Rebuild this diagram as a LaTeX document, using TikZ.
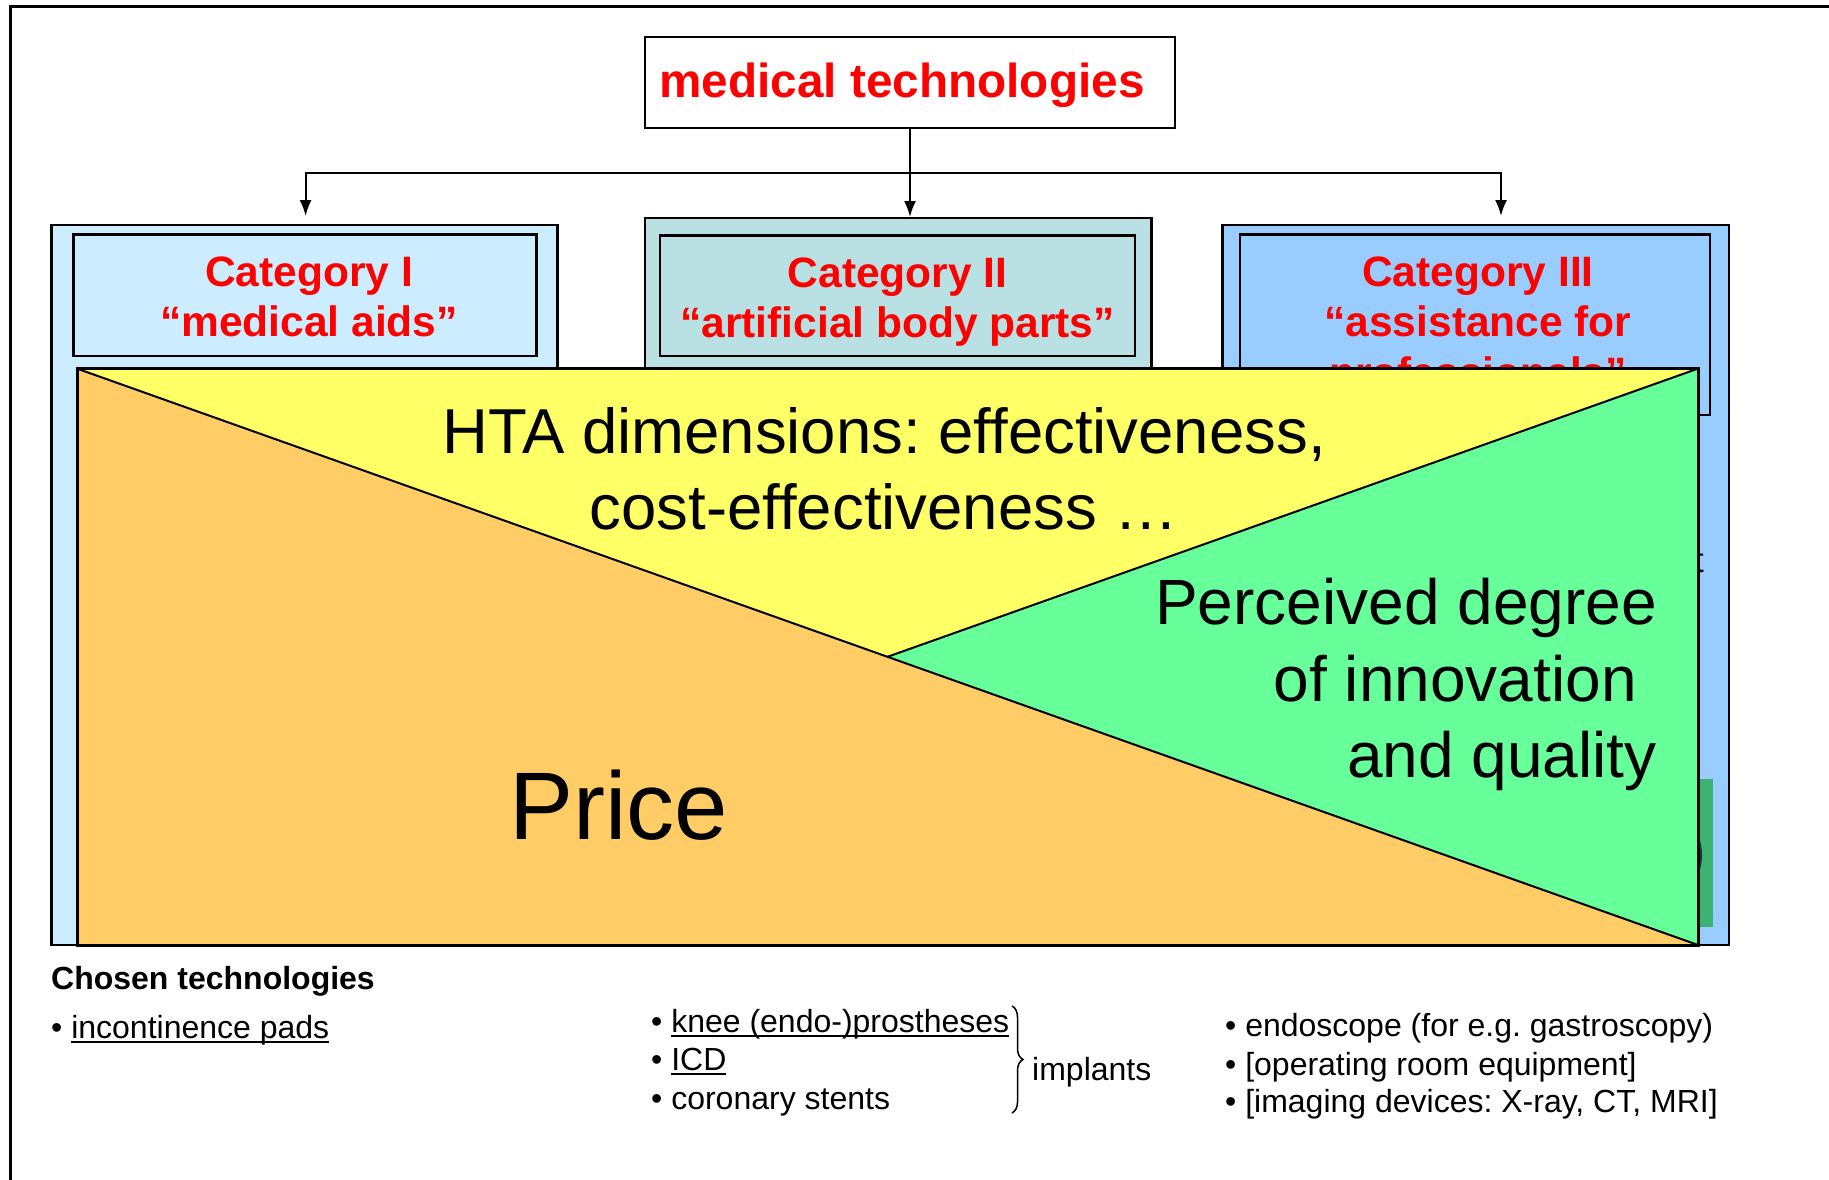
\documentclass[tikz,border=0pt]{standalone}
\usepackage{fontspec}
\setmainfont{Liberation Sans}
\usetikzlibrary{arrows.meta,decorations.pathreplacing}
\definecolor{catone}{HTML}{CCECFF}
\definecolor{cattwo}{HTML}{B9E0E3}
\definecolor{catthree}{HTML}{99CCFF}
\definecolor{yelfill}{HTML}{FFFF66}
\definecolor{orafill}{HTML}{FFCC66}
\definecolor{grefill}{HTML}{66FF99}
\definecolor{hidgreen}{HTML}{3CB371}
\definecolor{hiddark}{HTML}{1E3D28}
\definecolor{redtext}{HTML}{FF0000}
\newcommand\setfs[2]{\fontsize{#1pt}{#2pt}\selectfont}
\newcommand\myul[1]{\setbox0\hbox{#1}\rlap{\rule[-5pt]{\wd0}{2pt}}\box0}
\frenchspacing
\begin{document}
\frenchspacing
\begin{tikzpicture}[x=1pt,y=-1pt,
  box/.style={draw, line width=2.5pt, rectangle, inner sep=0pt, outer sep=0pt, anchor=north west},
  cattext/.style={text=redtext, font=\bfseries\setfs{42.5}{51}, anchor=base, inner sep=0pt},
  toptext/.style={text=redtext, font=\bfseries\setfs{47.7}{56}, anchor=base, inner sep=0pt},
  bigtext/.style={font=\setfs{63.5}{76}, anchor=base, inner sep=0pt},
  pertext/.style={font=\setfs{64}{77}, anchor=base east, inner sep=0pt},
  small/.style={font=\setfs{32}{38}, anchor=base west, inner sep=0pt},
  arr/.style={line width=2pt, -{Latex[length=16pt,width=12pt]}}]
\path[use as bounding box] (0,0) rectangle (1829,1180);
\clip (0,0) rectangle (1829,1180);

% outer frame
\draw[line width=3pt] (10.5,7) rectangle (1900,1250);

% top box
\node[box, fill=white, minimum width=530pt, minimum height=91pt] (top) at (645,37) {};
\node[toptext] (toplabel) at (902,97.5) {medical technologies};

% category boxes
\node[box, fill=catone, minimum width=506.3pt, minimum height=720pt] (cat1) at (51.3,225) {};
\node[box, fill=catone, minimum width=463.1pt, minimum height=121.3pt] (cat1in) at (73.5,234.5) {};
\node[cattext] (cat1a) at (309,286) {Category I};
\node[cattext] (cat1b) at (309,336) {“medical aids”};

\node[box, fill=cattwo, minimum width=506.3pt, minimum height=727pt] (cat2) at (645,218) {};
\node[box, fill=cattwo, minimum width=475pt, minimum height=120.4pt] (cat2in) at (660,235.6) {};
\node[cattext] (cat2a) at (897.6,287) {Category II};
\node[cattext] (cat2b) at (897.6,337) {“artificial body parts”};

\node[box, fill=catthree, minimum width=506.3pt, minimum height=720pt] (cat3) at (1222.5,225) {};
\node[box, fill=catthree, minimum width=470pt, minimum height=180.5pt] (cat3in) at (1240,234.5) {};
\node[cattext] (cat3a) at (1478,286) {Category III};
\node[cattext] (cat3b) at (1478,336) {“assistance for};
\node[cattext] (cat3c) at (1478,387) {professionals”};

% partly hidden content of category III
\node[font=\setfs{35}{40}, anchor=base, inner sep=0pt] (tpeek) at (1699,572) {t};
\fill[hidgreen] (1697,779) rectangle (1712.5,927);
\fill[hiddark] (1694,855) ellipse [x radius=8pt, y radius=22pt];

% connectors
\coordinate (hub) at (910,172.6);
\coordinate (a1) at (305.6,216);
\coordinate (a2) at (910,217);
\coordinate (a3) at (1501,216);
\draw[arr] (top.south) -- (a2);
\draw[arr] (hub) -| (a1);
\draw[arr] (hub) -| (a3);

% big overlay rectangle
\coordinate (tl) at (77,368.6);
\coordinate (tr) at (1698,368.6);
\coordinate (br) at (1698,945);
\coordinate (bl) at (77,945);
\coordinate (mid) at (887.5,656.8);
\fill[orafill] (tl) -- (br) -- (bl) -- cycle;
\fill[yelfill] (tl) -- (tr) -- (mid) -- cycle;
\fill[grefill] (tr) -- (br) -- (mid) -- cycle;
\draw[line width=2pt] (tl) -- (br);
\draw[line width=2pt] (tr) -- (mid);
\draw[line width=3pt] (tl) rectangle (br);

\node[bigtext] (hta1) at (884,453) {HTA dimensions: effectiveness,};
\node[bigtext] (hta2) at (884,529) {cost-effectiveness …};
\node[pertext] (per1) at (1657,624) {Perceived degree};
\node[pertext] (per2) at (1637,701) {of innovation};
\node[pertext] (per3) at (1657,777) {and quality};
\node[font=\setfs{96}{112}, anchor=base, inner sep=0pt] (price) at (619,839) {Price};

% bottom list
\node[small, font=\bfseries\setfs{32}{38}] (chosen) at (51,989) {Chosen technologies};
\node[small] (pads) at (51,1038) {• \myul{incontinence pads}};

\node[small] (knee) at (651,1032) {• \myul{knee (endo-)prostheses}};
\node[small] (icd) at (651,1070) {• \myul{ICD}};
\node[small] (stents) at (651,1109) {• coronary stents};
\coordinate (brtop) at (1012,1006);
\coordinate (brbot) at (1012,1113);
\draw[line width=1.5pt, decorate, decoration={brace, amplitude=11pt}] (brtop) -- (brbot);
\node[small] (implants) at (1032,1080) {implants};

\node[small] (endo) at (1225,1036) {• endoscope (for e.g. gastroscopy)};
\node[small] (orq) at (1225,1075) {• [operating room equipment]};
\node[small] (imgdev) at (1225,1112) {• [imaging devices: X-ray, CT, MRI]};
\end{tikzpicture}
\end{document}
